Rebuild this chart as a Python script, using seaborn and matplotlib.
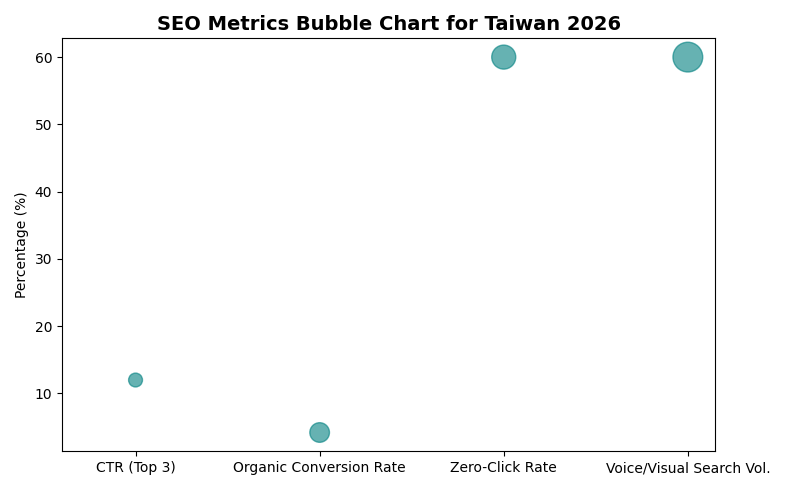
import matplotlib
matplotlib.use("Agg")
import matplotlib.pyplot as plt
import seaborn as sns
import pandas as pd

# ── data ──────────────────────────────────────────────
metrics = ["CTR (Top 3)", "Organic Conversion Rate", "Zero-Click Rate", "Voice/Visual Search Vol."]
values = [12, 4.2, 60, 60]
bubble_sizes = [100, 200, 300, 460]

df = pd.DataFrame({"metric": metrics, "value": values, "size": bubble_sizes})

fig, ax = plt.subplots(figsize=(7.87, 4.9), dpi=100)
sns.scatterplot(data=df, x="metric", y="value", size="size", sizes=(100, 460),
                color="teal", alpha=0.6, edgecolor="teal", linewidth=1,
                legend=False, ax=ax)
ax.set_title("SEO Metrics Bubble Chart for Taiwan 2026", fontsize=14, fontweight="bold")
ax.set_xlabel("")
ax.set_ylabel("Percentage (%)")
ax.set_xlim(-0.4, 3.15)
plt.tight_layout()
plt.savefig("out.png")
